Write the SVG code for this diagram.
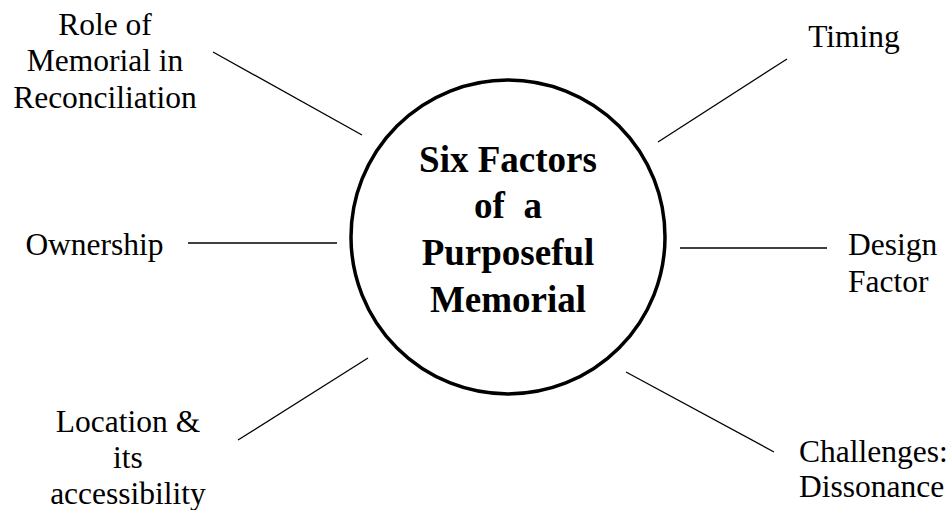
<svg xmlns="http://www.w3.org/2000/svg" width="950" height="510" viewBox="0 0 950 510">
<style>
text{font-family:'Liberation Serif','Times New Roman',Tinos,'Noto Serif','Nimbus Roman','FreeSerif','DejaVu Serif',serif;fill:#000}
.lbl{font-size:31.5px}
.mid{text-anchor:middle}
.ctr{font-size:37px;font-weight:bold;text-anchor:middle}
.conn line{stroke:#000;stroke-width:1.3}
</style>
<rect width="950" height="510" fill="#fff"/>
<g id="center">
<circle cx="508" cy="237" r="157" fill="none" stroke="#000" stroke-width="3.5"/>
<text class="ctr" xml:space="preserve"><tspan x="508" y="172">Six Factors</tspan><tspan x="508" y="218">of  a</tspan><tspan x="508" y="265">Purposeful</tspan><tspan x="508" y="312">Memorial</tspan></text>
</g>
<g class="conn" id="connectors">
<line x1="213" y1="52" x2="362" y2="135"/>
<line x1="787" y1="59" x2="658" y2="142"/>
<line x1="188" y1="243" x2="337" y2="243"/>
<line x1="680" y1="248" x2="827" y2="248"/>
<line x1="238" y1="440" x2="368" y2="358"/>
<line x1="626" y1="372" x2="774" y2="452"/>
</g>
<g id="role"><text class="lbl mid"><tspan x="105" y="35">Role of</tspan><tspan x="105" y="71">Memorial in</tspan><tspan x="105" y="108">Reconciliation</tspan></text></g>
<g id="timing"><text class="lbl mid" x="854" y="47">Timing</text></g>
<g id="ownership"><text class="lbl mid" x="94.5" y="255">Ownership</text></g>
<g id="design"><text class="lbl"><tspan x="848" y="255">Design</tspan><tspan x="848" y="292">Factor</tspan></text></g>
<g id="location"><text class="lbl mid"><tspan x="128" y="432">Location &amp;</tspan><tspan x="128" y="468">its</tspan><tspan x="128" y="504">accessibility</tspan></text></g>
<g id="challenges"><text class="lbl"><tspan x="799" y="462">Challenges:</tspan><tspan x="799" y="497">Dissonance</tspan></text></g>
</svg>
